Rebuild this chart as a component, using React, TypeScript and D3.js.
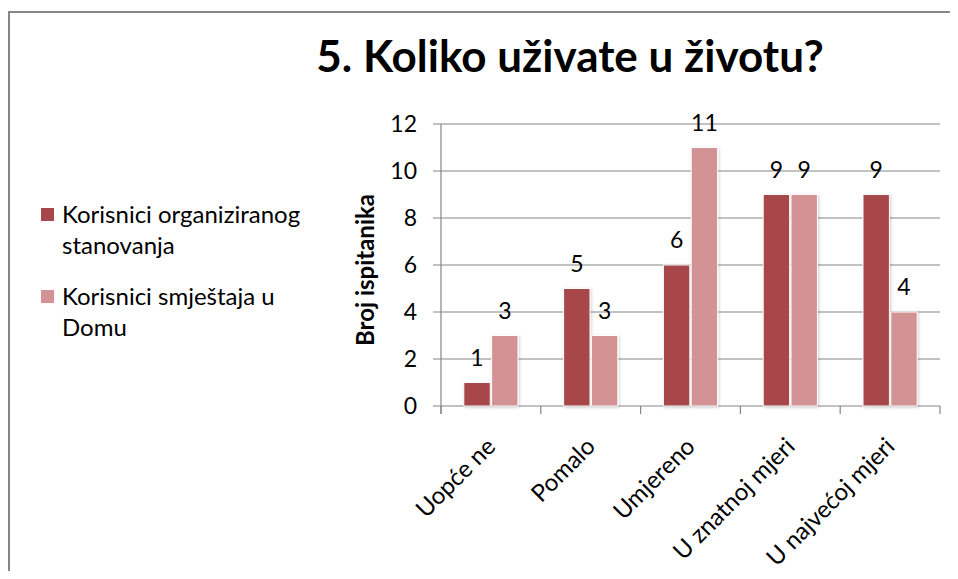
import { useEffect, useRef } from 'react'
import * as d3 from 'd3'

const categories = ['Uopće ne', 'Pomalo', 'Umjereno', 'U znatnoj mjeri', 'U najvećoj mjeri']
const organizirano = [1, 5, 6, 9, 9]
const dom = [3, 3, 11, 9, 4]
const seriesNames = [['Korisnici organiziranog', 'stanovanja'], ['Korisnici smještaja u', 'Domu']]
const yTicks = [0, 2, 4, 6, 8, 10, 12]

const colors = ['#a8474a', '#d39293']
const font = 'Lato, "Open Sans", sans-serif'

export default function App() {
  const svgRef = useRef<SVGSVGElement>(null)

  useEffect(() => {
    if (!svgRef.current) return
    const width = 958
    const height = 579
    const plot = { left: 441, right: 940, top: 124, bottom: 406 }

    const svg = d3.select(svgRef.current)
    svg.selectAll('*').remove()
    svg.attr('width', width).attr('height', height)

    // shadow behind bars, faint like the office chart
    const defs = svg.append('defs')
    const f = defs.append('filter').attr('id', 'shadow').attr('x', '-30%').attr('y', '-10%').attr('width', '160%').attr('height', '130%')
    f.append('feDropShadow').attr('dx', 1).attr('dy', 1).attr('stdDeviation', 1.5).attr('flood-color', '#000').attr('flood-opacity', 0.2)

    // outer frame (right/bottom cut off in original)
    svg.append('rect')
      .attr('x', 9).attr('y', 12).attr('width', 960).attr('height', 600)
      .attr('fill', '#fff').attr('stroke', '#868686').attr('stroke-width', 2)

    svg.append('text')
      .attr('x', 570).attr('y', 72)
      .attr('text-anchor', 'middle')
      .attr('font-family', font).attr('font-weight', 700).attr('font-size', 44)
      .text('5. Koliko uživate u životu?')

    const x0 = d3.scaleBand().domain(categories).range([plot.left, plot.right])
    const x1 = d3.scaleBand().domain(['a', 'b']).range([0, x0.bandwidth()]).paddingOuter(0.82).paddingInner(0.05)
    const y = d3.scaleLinear().domain([0, 12]).range([plot.bottom, plot.top])

    const g = svg.append('g')

    // gridlines
    g.append('g')
      .selectAll('line')
      .data(yTicks)
      .join('line')
      .attr('x1', plot.left - 8).attr('x2', plot.right)
      .attr('y1', d => y(d)).attr('y2', d => y(d))
      .attr('stroke', '#868686').attr('stroke-width', 1.2)

    // axis lines
    g.append('line')
      .attr('x1', plot.left).attr('x2', plot.left)
      .attr('y1', plot.top).attr('y2', plot.bottom + 8)
      .attr('stroke', '#868686').attr('stroke-width', 1.2)
    g.append('g')
      .selectAll('line')
      .data(d3.range(categories.length + 1))
      .join('line')
      .attr('x1', i => plot.left + i * x0.step()).attr('x2', i => plot.left + i * x0.step())
      .attr('y1', plot.bottom).attr('y2', plot.bottom + 8)
      .attr('stroke', '#868686').attr('stroke-width', 1.2)

    g.append('g')
      .selectAll('text')
      .data(yTicks)
      .join('text')
      .attr('x', plot.left - 24).attr('y', d => y(d))
      .attr('dy', '0.35em')
      .attr('text-anchor', 'end')
      .attr('font-family', font).attr('font-size', 23)
      .text(d => d)

    const series = [organizirano, dom]
    series.forEach((vals, si) => {
      const key = si === 0 ? 'a' : 'b'
      const bars = g.append('g')
      bars.selectAll('rect')
        .data(vals)
        .join('rect')
        .attr('x', (_, i) => (x0(categories[i]) ?? 0) + (x1(key) ?? 0))
        .attr('y', d => y(d))
        .attr('width', x1.bandwidth())
        .attr('height', d => plot.bottom - y(d))
        .attr('fill', colors[si])
        .attr('stroke', '#fff').attr('stroke-width', 1)
        .attr('filter', 'url(#shadow)')
      bars.selectAll('text')
        .data(vals)
        .join('text')
        .attr('x', (_, i) => (x0(categories[i]) ?? 0) + (x1(key) ?? 0) + x1.bandwidth() / 2)
        .attr('y', d => y(d) - 17)
        .attr('text-anchor', 'middle')
        .attr('font-family', font).attr('font-size', 23)
        .text(d => d)
    })

    // category labels, rotated
    g.append('g')
      .selectAll('text')
      .data(categories)
      .join('text')
      .attr('transform', d => `translate(${(x0(d) ?? 0) + x0.bandwidth() / 2 + 6},${plot.bottom + 42}) rotate(-45)`)
      .attr('text-anchor', 'end')
      .attr('font-family', font).attr('font-size', 24)
      .text(d => d)

    svg.append('text')
      .attr('transform', `translate(374,270) rotate(-90)`)
      .attr('text-anchor', 'middle')
      .attr('font-family', font).attr('font-weight', 700).attr('font-size', 24)
      .text('Broj ispitanika')

    // legend
    const legend = svg.append('g')
    seriesNames.forEach((lines, i) => {
      const top = 208 + i * 82
      legend.append('rect')
        .attr('x', 41).attr('y', top).attr('width', 13).attr('height', 13)
        .attr('fill', colors[i])
      lines.forEach((t, j) => {
        legend.append('text')
          .attr('x', 62).attr('y', top + 6.5 + j * 31)
          .attr('dy', '0.35em')
          .attr('font-family', font).attr('font-size', 24)
          .text(t)
      })
    })
  }, [])

  return (
    <div style={{ margin: -8 }}>
      <svg ref={svgRef} style={{ display: 'block' }} />
    </div>
  )
}
